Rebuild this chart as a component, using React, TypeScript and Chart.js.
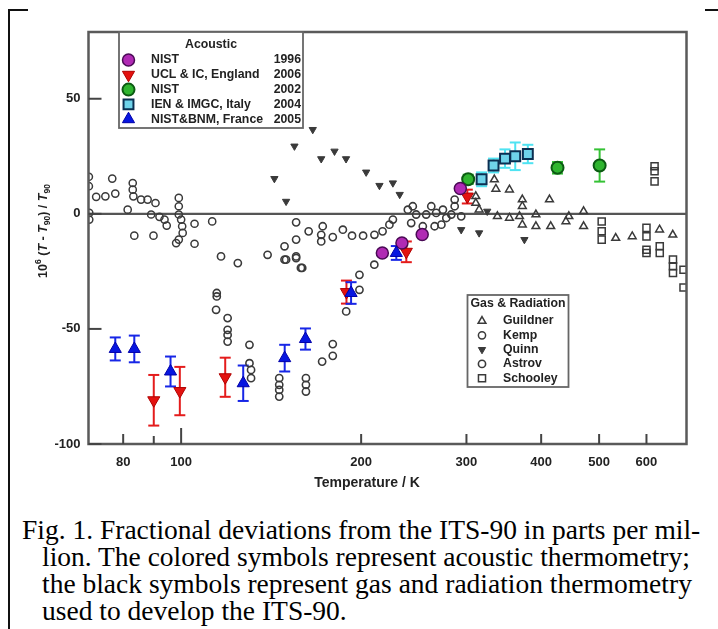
import React, { useEffect, useRef } from 'react';
import { Chart, registerables } from 'chart.js';

Chart.register(...registerables);

// ---------- Acoustic thermometry (temperature K, deviation ppm, ±uncertainty) ----------
const nist1996Temp = [217, 234, 253, 293];
const nist1996Dev = [-17, -12.7, -9, 11];

const uclTemp = [90, 99.5, 118.5, 189, 238, 301];
const uclDev = [-81, -77, -71, -34, -16.5, 7.5];
const uclErr = [11, 10.5, 8.5, 5, 4.5, 3];

const nist2002Temp = [302, 426, 501];
const nist2002Dev = [15, 20, 21];
const nist2002Err = [2, 2.5, 7];

const ienTemp = [318, 333, 348, 362, 380];
const ienDev = [15, 21, 24, 25, 26];
const ienErr = [3, 3, 4, 6, 4];

const bnmTemp = [77.6, 83.5, 96, 127, 149, 161.4, 192.4, 229];
const bnmDev = [-58.7, -58.7, -68.5, -73.6, -62.7, -54.4, -34.4, -17];
const bnmErr = [5, 5.8, 6.5, 7.7, 5.8, 4.6, 4.7, 3];

// ---------- Gas & radiation thermometry ----------
const guildnerTemp = [311, 311, 315, 334, 336, 354, 338, 354, 368, 372, 372, 372, 392, 392, 413, 415, 440, 445, 471, 471, 533, 568, 631, 664];
const guildnerDev = [7.6, 4.7, 1.8, 14.9, 10.8, 10.5, -1.1, -1.8, -1.1, 6.2, 3.3, -4.7, -0.3, -5.4, 6.2, -5.4, -3.3, -1.1, 1.1, -5.4, -10.5, -9.8, -6.9, -9.1];

const kempTemp = [70.1, 70.1, 70.2, 70.2, 76.7, 72.1, 74.7, 77.6, 83, 83, 83.2, 85.7, 87.9, 90.6, 81.4, 89.1, 92, 93.8, 94.6, 99.1, 99.1, 99.1, 100, 100.4, 100.6, 99.1, 98.1, 105.3, 112.7, 83.5, 89.9, 105.3];
const kempDev = [16.1, 12, 0.4, -2.5, 15.3, 7.4, 7.6, 8.8, 13.4, 10.5, 7.6, 6.2, 6.2, 4.7, 1.8, -0.3, -1.3, -2.5, -5.1, 6.9, 3.3, -0.3, -2.5, -5.4, -8.3, -11.2, -12.7, -4.3, -3.3, -9.5, -9.5, -13];

const quinnTemp = [143.2, 149.8, 154.7, 166, 171.5, 180.5, 188.7, 203.9, 214.6, 226, 232, 294, 315, 325, 375];
const quinnDev = [15.3, 5.4, 29.4, 36.6, 23.9, 27.2, 23.9, 18.1, 12.3, 13.4, 8.4, -6.9, -8.3, 1.1, -11.2];

const astrovTemp = [
  114.7, 114.7, 114.4, 119.6, 119.6, 119.6, 119.6, 130.1, 130.1, 130.9, 130.9, 145.9, 145.9, 145.9, 145.9,
  161.7, 161.7, 161.7, 172.1, 179.3, 179.3, 188.8, 198.7, 210.4, 116.6, 124.4, 139.5, 149.8, 155.7, 159.4,
  226, 239.4, 244, 247.2, 256.9, 262, 267, 274, 277.6, 283, 286.7, 286.7, 294, 265.4, 272.4, 253.6, 223,
  242.5, 217.2, 210.5, 201.5, 193.1, 186.4, 179.3, 172.5, 171.5, 171.5, 163.4, 155.7, 155.7, 148.9, 155.7,
  148.9, 158.6, 198.7,
];
const astrovDev = [
  -34.4, -35.9, -41.7, -45.3, -50.4, -52.6, -55.5, -56.9, -64.9, -67.8, -71.4, -71.4, -74.3, -76.5, -79.4,
  -71.4, -74.3, -77.2, -64.2, -61.7, -56.6, -42.4, -26.5, -22.1, -18.5, -21.4, -17.8, -19.9, -18.5, -23.5,
  -2.5, 1.8, 3.3, -0.3, -0.3, 3.3, 0.4, 1.8, -1.8, -0.3, 3.3, 6.2, -1.1, -5.4, -4.7, -5.4, -4.7,
  -4, -7.6, -9.1, -9.5, -9.5, -6.9, -10.1, -5.4, -9.1, -12, -7.6, -11.2, -3.7, -14.1, -19.2,
  -19.9, -23.5, -33,
];

const schooleyTemp = [505, 505, 505, 600, 600, 600, 600, 631.5, 631.5, 664.5, 664.5, 664.5, 619, 619, 619, 692, 692];
const schooleyDev = [-3.3, -7.6, -11.2, -6.1, -9.8, -15.6, -17, -14.1, -17, -19.9, -22.8, -25.7, 20.7, 18.5, 14.1, -24.3, -32];

// ---------- Axis ticks ----------
const xTickValues = [80, 90, 100, 200, 300, 400, 500, 600];
const xTickLabels = ['80', '', '100', '200', '300', '400', '500', '600'];
const yTickValues = [-100, -50, 0, 50];

// ---------- Legend text ----------
const acousticNames = ['NIST', 'UCL & IC, England', 'NIST', 'IEN & IMGC, Italy', 'NIST&BNM, France'];
const acousticYears = ['1996', '2006', '2002', '2004', '2005'];
const gasNames = ['Guildner', 'Kemp', 'Quinn', 'Astrov', 'Schooley'];

// ---------- Caption ----------
const captionLines = [
  'Fig. 1. Fractional deviations from the ITS-90 in parts per mil-',
  'lion. The colored symbols represent acoustic thermometry;',
  'the black symbols represent gas and radiation thermometry',
  'used to develop the ITS-90.',
];

const SANS = '"Liberation Sans", Arial, sans-serif';

type MarkerStyle = {
  shape: 'circle' | 'triangle' | 'rect';
  radius: number;
  fill: string;
  stroke: string;
  width: number;
  rotation: number;
};

const acousticStyles: MarkerStyle[] = [
  { shape: 'circle', radius: 6, fill: '#b02ab4', stroke: '#4a0a55', width: 1.5, rotation: 0 },
  { shape: 'triangle', radius: 7, fill: '#e3120f', stroke: '#b00000', width: 1, rotation: 180 },
  { shape: 'circle', radius: 6, fill: '#2fb52f', stroke: '#0b5a12', width: 2, rotation: 0 },
  { shape: 'rect', radius: 7, fill: '#6fd3ea', stroke: '#0b2f52', width: 2, rotation: 0 },
  { shape: 'triangle', radius: 7, fill: '#0716e0', stroke: '#0000a8', width: 1, rotation: 0 },
];

const gasStyles: MarkerStyle[] = [
  { shape: 'triangle', radius: 4.5, fill: 'rgba(255,255,255,0)', stroke: '#3a3a3a', width: 1.5, rotation: 0 },
  { shape: 'circle', radius: 3.6, fill: 'rgba(255,255,255,0)', stroke: '#3a3a3a', width: 1.5, rotation: 0 },
  { shape: 'triangle', radius: 4.2, fill: '#3a3a3a', stroke: '#3a3a3a', width: 1, rotation: 180 },
  { shape: 'circle', radius: 3.6, fill: 'rgba(255,255,255,0)', stroke: '#3a3a3a', width: 1.6, rotation: 0 },
  { shape: 'rect', radius: 5, fill: 'rgba(255,255,255,0)', stroke: '#3a3a3a', width: 1.5, rotation: 0 },
];

const pts = (t: number[], d: number[]) => t.map((v, i) => ({ x: v, y: d[i] }));

function drawMarker(ctx: CanvasRenderingContext2D, s: MarkerStyle, x: number, y: number) {
  const r = s.radius;
  ctx.beginPath();
  if (s.shape === 'circle') {
    ctx.arc(x, y, r, 0, Math.PI * 2);
  } else if (s.shape === 'triangle') {
    let rad = (s.rotation * Math.PI) / 180;
    ctx.moveTo(x + Math.sin(rad) * r, y - Math.cos(rad) * r);
    rad += (2 * Math.PI) / 3;
    ctx.lineTo(x + Math.sin(rad) * r, y - Math.cos(rad) * r);
    rad += (2 * Math.PI) / 3;
    ctx.lineTo(x + Math.sin(rad) * r, y - Math.cos(rad) * r);
    ctx.closePath();
  } else {
    const h = r * Math.SQRT1_2;
    ctx.rect(x - h, y - h, 2 * h, 2 * h);
  }
  ctx.fillStyle = s.fill;
  ctx.fill();
  ctx.lineWidth = s.width;
  ctx.strokeStyle = s.stroke;
  ctx.stroke();
}

function dataset(label: string, t: number[], d: number[], s: MarkerStyle, order: number, err?: number[], errColor?: string) {
  return {
    label,
    data: pts(t, d),
    pointStyle: s.shape,
    pointRadius: s.radius,
    pointBackgroundColor: s.fill,
    pointBorderColor: s.stroke,
    pointBorderWidth: s.width,
    pointRotation: s.rotation,
    order,
    errorBars: err,
    errorColor: errColor,
  };
}

function line(ctx: CanvasRenderingContext2D, x1: number, y1: number, x2: number, y2: number) {
  ctx.beginPath();
  ctx.moveTo(x1, y1);
  ctx.lineTo(x2, y2);
  ctx.stroke();
}

const decorations = {
  id: 'decorations',
  beforeDatasetsDraw(chart: any) {
    const { ctx, chartArea: a, scales } = chart;
    const xs = scales.x;
    const ys = scales.y;
    ctx.save();
    // zero reference line
    ctx.strokeStyle = '#555';
    ctx.lineWidth = 2.2;
    const y0 = ys.getPixelForValue(0);
    line(ctx, a.left, y0, a.right, y0);
    // uncertainty bars
    chart.data.datasets.forEach((ds: any) => {
      if (!ds.errorBars) return;
      ctx.strokeStyle = ds.errorColor;
      ctx.lineWidth = 2;
      ds.data.forEach((p: any, j: number) => {
        const e = ds.errorBars[j];
        const px = xs.getPixelForValue(p.x);
        const top = ys.getPixelForValue(p.y + e);
        const bot = ys.getPixelForValue(p.y - e);
        line(ctx, px, top, px, bot);
        line(ctx, px - 5.5, top, px + 5.5, top);
        line(ctx, px - 5.5, bot, px + 5.5, bot);
      });
    });
    ctx.restore();
  },
  afterDraw(chart: any) {
    const { ctx, chartArea: a, scales } = chart;
    const xs = scales.x;
    const ys = scales.y;
    ctx.save();

    // plot frame
    ctx.strokeStyle = '#5a5a5a';
    ctx.lineWidth = 2.5;
    ctx.strokeRect(a.left, a.top, a.right - a.left, a.bottom - a.top);

    // inward tick marks
    ctx.strokeStyle = '#444';
    ctx.lineWidth = 2;
    xTickValues.forEach((v) => {
      const px = xs.getPixelForValue(v);
      const len = v === 100 ? 16 : v === 90 ? 8 : 10;
      line(ctx, px, a.bottom, px, a.bottom - len);
    });
    yTickValues.forEach((v) => {
      const py = ys.getPixelForValue(v);
      line(ctx, a.left, py, a.left + 13, py);
    });

    // x-axis title
    ctx.fillStyle = '#222';
    ctx.font = `bold 14px ${SANS}`;
    ctx.textAlign = 'center';
    ctx.textBaseline = 'middle';
    ctx.fillText('Temperature / K', 367, 483);

    // y-axis title, rotated
    const parts = [
      { t: '10', f: `bold 12.5px ${SANS}`, dy: 0 },
      { t: '6', f: `bold 8.5px ${SANS}`, dy: -5 },
      { t: ' (', f: `bold 12.5px ${SANS}`, dy: 0 },
      { t: 'T', f: `italic bold 12.5px ${SANS}`, dy: 0 },
      { t: ' - ', f: `bold 12.5px ${SANS}`, dy: 0 },
      { t: 'T', f: `italic bold 12.5px ${SANS}`, dy: 0 },
      { t: '90', f: `bold 8.5px ${SANS}`, dy: 3.5 },
      { t: ') / ', f: `bold 12.5px ${SANS}`, dy: 0 },
      { t: 'T', f: `italic bold 12.5px ${SANS}`, dy: 0 },
      { t: '90', f: `bold 8.5px ${SANS}`, dy: 3.5 },
    ];
    ctx.save();
    ctx.translate(44, 231);
    ctx.rotate(-Math.PI / 2);
    ctx.textAlign = 'left';
    ctx.textBaseline = 'middle';
    let total = 0;
    parts.forEach((p) => {
      ctx.font = p.f;
      total += ctx.measureText(p.t).width;
    });
    let cx = -total / 2;
    parts.forEach((p) => {
      ctx.font = p.f;
      ctx.fillText(p.t, cx, p.dy);
      cx += ctx.measureText(p.t).width;
    });
    ctx.restore();

    const legendFont = `bold 12.3px ${SANS}`;

    // Acoustic legend
    ctx.fillStyle = '#fff';
    ctx.fillRect(119, a.top, 184, 96);
    ctx.strokeStyle = '#666';
    ctx.lineWidth = 1.8;
    ctx.strokeRect(119, a.top, 184, 96);
    ctx.fillStyle = '#222';
    ctx.font = legendFont;
    ctx.textAlign = 'center';
    ctx.textBaseline = 'middle';
    ctx.fillText('Acoustic', 211, 45);
    acousticNames.forEach((name, i) => {
      const ry = 60 + i * 14.8;
      drawMarker(ctx, acousticStyles[i], 128.5, ry);
      ctx.fillStyle = '#222';
      ctx.font = legendFont;
      ctx.textAlign = 'left';
      ctx.fillText(name, 151, ry);
      ctx.textAlign = 'right';
      ctx.fillText(acousticYears[i], 301, ry);
    });

    // Gas & Radiation legend
    ctx.fillStyle = '#fff';
    ctx.fillRect(467.5, 295, 101, 92);
    ctx.strokeStyle = '#666';
    ctx.lineWidth = 1.8;
    ctx.strokeRect(467.5, 295, 101, 92);
    ctx.fillStyle = '#222';
    ctx.font = legendFont;
    ctx.textAlign = 'center';
    ctx.fillText('Gas & Radiation', 518, 303.5);
    gasNames.forEach((name, i) => {
      const ry = 321 + i * 14.3;
      drawMarker(ctx, gasStyles[i], 482, ry);
      ctx.fillStyle = '#222';
      ctx.font = legendFont;
      ctx.textAlign = 'left';
      ctx.fillText(name, 503, ry);
    });

    ctx.restore();
  },
};

export default function App() {
  const canvasRef = useRef<HTMLCanvasElement>(null);

  useEffect(() => {
    const canvas = canvasRef.current;
    if (!canvas) return;
    const tickFont = { family: SANS, size: 13, weight: 'bold' as const };
    const chart = new Chart(canvas, {
      type: 'scatter',
      data: {
        datasets: [
          dataset('Guildner', guildnerTemp, guildnerDev, gasStyles[0], 10),
          dataset('Kemp', kempTemp, kempDev, gasStyles[1], 10),
          dataset('Quinn', quinnTemp, quinnDev, gasStyles[2], 10),
          dataset('Astrov', astrovTemp, astrovDev, gasStyles[3], 10),
          dataset('Schooley', schooleyTemp, schooleyDev, gasStyles[4], 10),
          dataset('NIST 1996', nist1996Temp, nist1996Dev, acousticStyles[0], 2),
          dataset('UCL & IC, England 2006', uclTemp, uclDev, acousticStyles[1], 2, uclErr, '#e41c1c'),
          dataset('NIST 2002', nist2002Temp, nist2002Dev, acousticStyles[2], 2, nist2002Err, '#35c235'),
          dataset('IEN & IMGC, Italy 2004', ienTemp, ienDev, acousticStyles[3], 2, ienErr, '#4fe3f2'),
          dataset('NIST&BNM, France 2005', bnmTemp, bnmDev, acousticStyles[4], 1, bnmErr, '#1726e6'),
        ] as any,
      },
      options: {
        responsive: false,
        animation: false,
        events: [],
        layout: { padding: { top: 32, right: 31.5, left: 0, bottom: 0 } },
        plugins: { legend: { display: false }, tooltip: { enabled: false } },
        scales: {
          x: {
            type: 'logarithmic',
            min: 70,
            max: 700,
            grid: { display: false, drawTicks: false },
            border: { display: false },
            afterBuildTicks: (s: any) => {
              s.ticks = xTickValues.map((v) => ({ value: v }));
            },
            afterFit: (s: any) => {
              s.height = 56;
              s.paddingLeft = 0;
              s.paddingRight = 0;
            },
            ticks: {
              autoSkip: false,
              maxRotation: 0,
              minRotation: 0,
              padding: 11,
              color: '#222',
              font: tickFont,
              callback: (_v: any, i: number) => xTickLabels[i] ?? '',
            },
          },
          y: {
            min: -100,
            max: 79,
            grid: { display: false, drawTicks: false },
            border: { display: false },
            afterBuildTicks: (s: any) => {
              s.ticks = yTickValues.map((v) => ({ value: v }));
            },
            afterFit: (s: any) => {
              s.width = 88.5;
              s.paddingTop = 0;
              s.paddingBottom = 0;
            },
            ticks: {
              padding: 8,
              color: '#222',
              font: tickFont,
              callback: (v: any) => String(v),
            },
          },
        } as any,
      },
      plugins: [decorations],
    });
    return () => chart.destroy();
  }, []);

  return (
    <div style={{ position: 'fixed', left: 0, top: 0, width: 718, height: 629, background: '#fff', overflow: 'hidden' }}>
      <canvas ref={canvasRef} width={718} height={500} style={{ position: 'absolute', left: 0, top: 0, width: 718, height: 500 }} />
      <div style={{ position: 'absolute', left: 8, top: 9, width: 2, height: 620, background: '#111' }} />
      <div style={{ position: 'absolute', left: 8, top: 9, width: 20, height: 2, background: '#111' }} />
      <div style={{ position: 'absolute', left: 705, top: 9, width: 13, height: 2, background: '#111' }} />
      {captionLines.map((text, i) => (
        <div
          key={i}
          style={{
            position: 'absolute',
            left: i === 0 ? 22 : 42,
            top: 516 + i * 27,
            whiteSpace: 'nowrap',
            fontFamily: '"Liberation Serif", "Times New Roman", serif',
            fontSize: 27.5,
            lineHeight: '28px',
            color: '#000',
          }}
        >
          {text}
        </div>
      ))}
    </div>
  );
}
